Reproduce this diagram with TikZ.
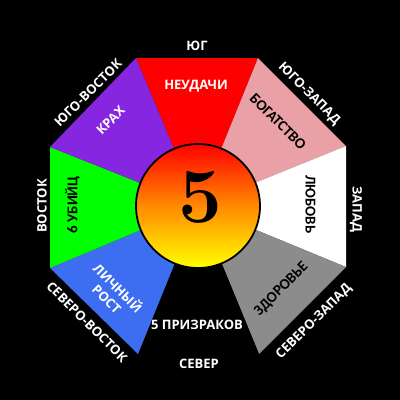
\documentclass[tikz,border=0pt]{standalone}
\usepackage{fontspec}
\setmainfont{Open Sans}
\newfontfamily\carl{Carlito}
\newfontfamily\lmr{Latin Modern Roman}
\definecolor{cred}{HTML}{FF0000}
\definecolor{cpink}{HTML}{E9A0A6}
\definecolor{cwhite}{HTML}{FFFFFF}
\definecolor{cgrey}{HTML}{8C8C8C}
\definecolor{cblue}{HTML}{3D6EF2}
\definecolor{cgreen}{HTML}{00FF00}
\definecolor{cpurple}{HTML}{8626E0}
\definecolor{corange}{HTML}{FF8A00}
\begin{document}
\begin{tikzpicture}[x=1pt,y=-1pt,
  outer/.style={font=\bfseries\fontsize{13}{15}\selectfont, text=white, inner sep=0pt},
  innerw/.style={font=\bfseries\fontsize{13}{15}\selectfont, text=white, inner sep=0pt, align=center},
  innerb/.style={font=\carl\bfseries\fontsize{15}{17}\selectfont, text=black, inner sep=0pt}]
\fill[black] (0,0) rectangle (400,400);
\useasboundingbox (0,0) rectangle (400,400);
\coordinate (O) at (198,206);
\coordinate (A) at (136,58);
\coordinate (B) at (258,58);
\coordinate (C) at (346,146);
\coordinate (D) at (346,267);
\coordinate (E) at (259,354);
\coordinate (F) at (138,354);
\coordinate (G) at (50,268);
\coordinate (H) at (50,147);
\fill[cred] (O) -- (A) -- (B) -- cycle;
\fill[cpink] (O) -- (B) -- (C) -- cycle;
\fill[cwhite] (O) -- (C) -- (D) -- cycle;
\fill[cgrey] (O) -- (D) -- (E) -- cycle;
\fill[black] (O) -- (E) -- (F) -- cycle;
\fill[cblue] (O) -- (F) -- (G) -- cycle;
\fill[cgreen] (O) -- (G) -- (H) -- cycle;
\fill[cpurple] (O) -- (H) -- (A) -- cycle;
\shade[top color=cred, bottom color=yellow, middle color=corange] (O) circle[radius=62];
\draw[black, line width=1.8pt] (O) circle[radius=62];
\node[inner sep=0pt, font=\lmr\bfseries\fontsize{78}{80}\selectfont] (five) at (200,197) {5};
% outer labels
\node[outer] (s) at (197,46) {ЮГ};
\node[outer, rotate=45] (se) at (88,93) {ЮГО-ВОСТОК};
\node[outer, rotate=90] (e) at (42,206) {ВОСТОК};
\node[outer, rotate=-45] (ne) at (87,322) {СЕВЕРО-ВОСТОК};
\node[outer] (n) at (199,364) {СЕВЕР};
\node[outer, rotate=45] (nw) at (314,322) {СЕВЕРО-ЗАПАД};
\node[outer, rotate=-90] (w) at (356,209) {ЗАПАД};
\node[outer, rotate=-45] (sw) at (309,94) {ЮГО-ЗАПАД};
% inner labels
\node[innerw] (l1) at (196,86.5) {НЕУДАЧИ};
\node[innerb, rotate=-45] (l2) at (278,121.5) {БОГАТСТВО};
\node[innerb, rotate=-90] (l3) at (310.5,204.5) {ЛЮБОВЬ};
\node[innerb, rotate=45] (l4) at (281.5,289) {ЗДОРОВЬЕ};
\node[innerw] (l5) at (197,325) {5 ПРИЗРАКОВ};
\node[innerw, rotate=-45, font=\bfseries\fontsize{13}{15.5}\selectfont] (l6) at (113,293) {ЛИЧНЫЙ\\РОСТ};
\node[innerb, rotate=90] (l7) at (72.5,205) {6 УБИЙЦ};
\node[innerw, rotate=45] (l8) at (110.5,120.5) {КРАХ};
\end{tikzpicture}
\end{document}
